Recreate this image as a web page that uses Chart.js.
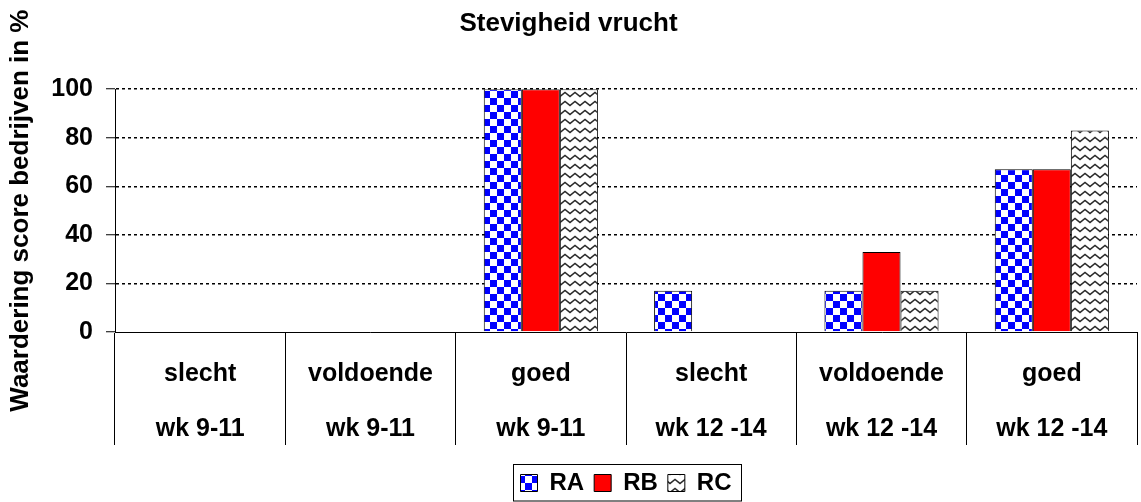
<!DOCTYPE html>
<html>
<head>
<meta charset="utf-8">
<script src="https://cdn.jsdelivr.net/npm/chart.js@4"></script>
<style>
  html, body { margin: 0; padding: 0; background: #fff; }
  #wrap { width: 1141px; height: 502px; }
</style>
</head>
<body>
<div id="wrap"><canvas id="chart"></canvas></div>
<script>
/* ─── Data ─────────────────────────────────────────────── */

const CATEGORIES = [
  ['slecht', 'wk 9-11'],
  ['voldoende', 'wk 9-11'],
  ['goed', 'wk 9-11'],
  ['slecht', 'wk 12 -14'],
  ['voldoende', 'wk 12 -14'],
  ['goed', 'wk 12 -14'],
];

const RA_VALUES = [0, 0, 100, 17, 17, 67];
const RB_VALUES = [0, 0, 100, 0, 33, 67];
const RC_VALUES = [0, 0, 100, 0, 17, 83];

const Y_MIN = 0;
const Y_MAX = 100;
const Y_STEP = 20;

/* ─── Fill patterns (Excel-style hatches) ──────────────── */

const FONT = "'Liberation Sans', Arial, sans-serif";

function checkerPattern() {
  const c = document.createElement('canvas');
  c.width = 14; c.height = 14;
  const g = c.getContext('2d');
  g.fillStyle = '#fff';
  g.fillRect(0, 0, 14, 14);
  g.fillStyle = '#0000ff';
  g.fillRect(0, 0, 7, 7);
  g.fillRect(7, 7, 7, 7);
  return g.createPattern(c, 'repeat');
}

function wavePattern() {
  const c = document.createElement('canvas');
  c.width = 10; c.height = 9;
  const g = c.getContext('2d');
  g.fillStyle = '#fff';
  g.fillRect(0, 0, 10, 9);
  g.strokeStyle = '#2a2a2a';
  g.lineWidth = 1.5;
  g.beginPath();
  g.moveTo(-2.5, 4.5);
  g.lineTo(0, 6.5);
  g.lineTo(5, 2.5);
  g.lineTo(10, 6.5);
  g.lineTo(12.5, 4.5);
  g.stroke();
  return g.createPattern(c, 'repeat');
}

// border round the legend items, like the Excel legend frame
const legendFrame = {
  id: 'legendFrame',
  afterDraw(chart) {
    const boxes = chart.legend && chart.legend.legendHitBoxes;
    if (!boxes || !boxes.length) return;
    const left = Math.min(...boxes.map(b => b.left)) - 8;
    const right = Math.max(...boxes.map(b => b.left + b.width)) + 9;
    const top = boxes[0].top - 7;
    const ctx = chart.ctx;
    ctx.save();
    ctx.strokeStyle = '#000';
    ctx.lineWidth = 1;
    ctx.strokeRect(Math.round(left) + 0.5, Math.round(top) + 0.5, Math.round(right - left), 501 - Math.round(top) - 0.5);
    ctx.restore();
  },
};

/* ─── Chart ────────────────────────────────────────────── */

new Chart(document.getElementById('chart'), {
  type: 'bar',
  data: {
    labels: CATEGORIES,
    datasets: [
      { label: 'RA', data: RA_VALUES, backgroundColor: checkerPattern() },
      { label: 'RB', data: RB_VALUES, backgroundColor: '#ff0000' },
      { label: 'RC', data: RC_VALUES, backgroundColor: wavePattern() },
    ].map(ds => ({
      borderColor: '#000',
      borderWidth: 1,
      categoryPercentage: 0.67,
      barPercentage: 1,
      ...ds,
    })),
  },
  plugins: [legendFrame],
  options: {
    responsive: true,
    maintainAspectRatio: false,
    animation: false,
    layout: { padding: { left: 0, right: 4, top: 0, bottom: 0 } },
    plugins: {
      title: {
        display: true,
        text: 'Stevigheid vrucht',
        color: '#000',
        font: { family: FONT, size: 26, weight: 'bold' },
        padding: { top: 8, bottom: 50 },
      },
      legend: {
        position: 'bottom',
        fullSize: false,
        maxHeight: 41,
        labels: {
          color: '#000',
          font: { family: FONT, size: 24, weight: 'bold' },
          boxWidth: 17,
          boxHeight: 17,
          padding: 10,
        },
      },
      tooltip: { enabled: false },
    },
    scales: {
      x: {
        afterFit(scale) { scale.height = 129; },
        grid: {
          offset: true,
          drawOnChartArea: false,
          drawTicks: true,
          tickLength: 113,
          color: '#000',
          lineWidth: 1,
        },
        border: { display: true, color: '#000', width: 1 },
        ticks: {
          color: '#000',
          font: { family: FONT, size: 25, weight: 'bold', lineHeight: 2.2 },
          padding: -98.5,
          maxRotation: 0,
          minRotation: 0,
          autoSkip: false,
        },
      },
      y: {
        min: Y_MIN,
        max: Y_MAX,
        afterFit(scale) { scale.width = 115; },
        grid: {
          // the zero line is the solid category axis, so no dots there
          color: c => (c.tick && c.tick.value === 0 ? 'rgba(0,0,0,0)' : '#000'),
          tickColor: '#000',
          lineWidth: 1.5,
          tickLength: 9,
          tickWidth: 1,
        },
        border: { display: true, color: '#000', width: 1, dash: [3, 3] },
        ticks: {
          stepSize: Y_STEP,
          color: '#000',
          padding: 13,
          font: { family: FONT, size: 25, weight: 'bold' },
        },
        title: {
          display: true,
          text: 'Waardering score bedrijven in %',
          color: '#000',
          font: { family: FONT, size: 26, weight: 'bold' },
          padding: { top: 5, bottom: 0 },
        },
      },
    },
  },
});
</script>
</body>
</html>
